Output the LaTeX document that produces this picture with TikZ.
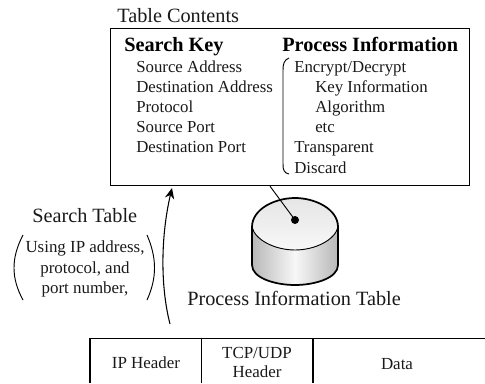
\documentclass[tikz,border=0pt]{standalone}
\usepackage{fontspec}
\setmainfont{Liberation Serif}
\usetikzlibrary{arrows.meta}
\definecolor{inkc}{gray}{0.1}
\definecolor{cylside}{gray}{0.97}
\definecolor{cyledge}{gray}{0.72}
\definecolor{cyltop}{gray}{0.9}
\tikzset{
  x=0.75pt,y=-0.75pt,
  body/.style={font=\fontsize{12.6pt}{14pt}\selectfont,text=inkc,anchor=base west,inner sep=0pt},
  head/.style={font=\fontsize{15.2pt}{16pt}\selectfont\bfseries,text=black,anchor=base west,inner sep=0pt},
  title/.style={font=\fontsize{15.2pt}{16pt}\selectfont,text=inkc,anchor=base west,inner sep=0pt},
  mid/.style={font=\fontsize{12.7pt}{14pt}\selectfont,text=inkc,anchor=base,inner sep=0pt,align=center},
  ln/.style={draw=black,line width=0.7pt}
}
\begin{document}
\begin{tikzpicture}
\useasboundingbox (0,0) rectangle (485,383);
\node[title] (tc) at (117,22.5) {Table Contents};
\node[draw=black,line width=0.9pt,minimum width=0.75*359pt,minimum height=0.75*157pt,inner sep=0pt,anchor=north west] (box) at (110,28) {};
\node[head] (sk) at (124,51) {Search Key};
\node[head] (pi) at (282,51) {Process Information};
\node[body] (a1) at (136,72) {Source Address};
\node[body] (a2) at (136,92) {Destination Address};
\node[body] (a3) at (136,112) {Protocol};
\node[body] (a4) at (136,132) {Source Port};
\node[body] (a5) at (136,152) {Destination Port};
\node[body] (b1) at (294,72) {Encrypt/Decrypt};
\node[body] (b2) at (315,92) {Key Information};
\node[body] (b3) at (315,112) {Algorithm};
\node[body] (b4) at (315,132) {etc};
\node[body] (b5) at (294,152) {Transparent};
\node[body] (b6) at (294,173) {Discard};
\draw[ln] (289,58) .. controls (284,60) and (283,64) .. (283,70) -- (283,164) .. controls (283,170) and (284,173) .. (289,174);
% cylinder
\coordinate (dot) at (295,220);
\path[left color=cyledge,right color=cyledge,middle color=cylside]
  (252,227) -- (252,265) .. controls (252,278) and (275,285) .. (295,285) .. controls (315,285) and (338,278) .. (338,265) -- (338,227) -- cycle;
\path[top color=cyltop,bottom color=white!97!black]
  (295,198) .. controls (275,198) and (252,209) .. (252,227) .. controls (255,240) and (275,250) .. (295,250) .. controls (315,250) and (335,240) .. (338,227) .. controls (338,209) and (315,198) .. (295,198) -- cycle;
\draw[black,line width=0.7pt] (252,227) .. controls (255,240) and (275,250) .. (295,250) .. controls (315,250) and (335,240) .. (338,227);
\draw[black,line width=1.3pt] (252,227) -- (252,265) .. controls (252,278) and (275,285) .. (295,285) .. controls (315,285) and (338,278) .. (338,265) -- (338,227) .. controls (338,209) and (315,198) .. (295,198) .. controls (275,198) and (252,209) .. (252,227) -- cycle;
\fill[black] (dot) circle (4);
\draw[ln] (box.south west) ++(160,0) coordinate (lnk) -- (dot);
\node[title] (pit) at (187,305) {Process Information Table};
% left
\node[title] (st) at (32,222) {Search Table};
\node[mid] (u1) at (85,252) {Using IP address,};
\node[mid] (u2) at (85,273) {protocol,  and};
\node[mid] (u3) at (85,293) {port number,};
\draw[ln] (23,235) .. controls (11,258) and (11,278) .. (23,300);
\draw[ln] (147,235) .. controls (157,258) and (157,278) .. (147,300);
% table
\coordinate (ts) at (170,324);
\coordinate (te) at (172,188);
\draw[ln,line width=0.8pt,-{Stealth[length=8pt,width=7pt]}] (ts) .. controls (160,285) and (161,235) .. (te);
\draw[ln,line width=0.9pt] (90,383) -- (90,338.5) -- (485,338.5);
\draw[ln,line width=0.8pt] (201.5,338.5) -- (201.5,383);
\draw[ln,line width=0.8pt] (313,338.5) -- (313,383);
\node[mid] (h1) at (146,368) {IP Header};
\node[mid] (h2) at (257,358) {TCP/UDP};
\node[mid] (h3) at (257,377) {Header};
\node[mid] (h4) at (397,369) {Data};
\end{tikzpicture}
\end{document}
